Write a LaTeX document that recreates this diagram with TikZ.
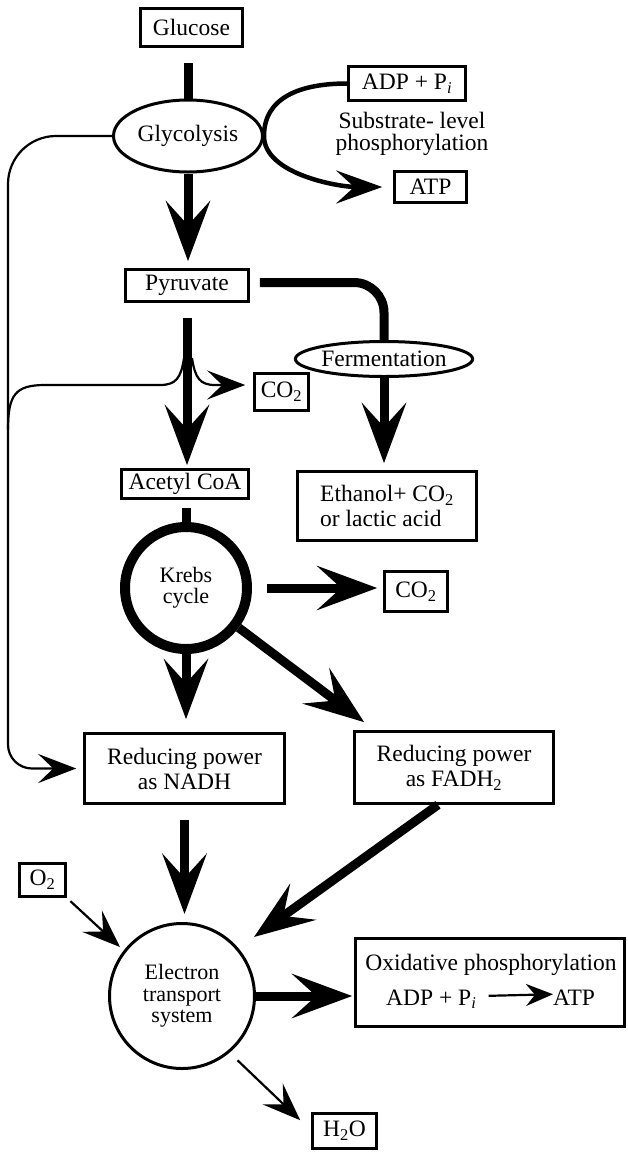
\documentclass[tikz,border=0pt]{standalone}
\usepackage{fontspec}
\setmainfont{Liberation Serif}
\usetikzlibrary{arrows.meta,shapes.geometric,calc}
\begin{document}
\begin{tikzpicture}[x=1pt,y=-1pt,
  txt/.style={font=\fontsize{23.5}{25}\selectfont},
  box/.style={draw, line width=2.6pt, inner sep=0pt, align=center, txt},
  oval/.style={draw, ellipse, line width=3pt, inner sep=0pt, txt},
  thickline/.style={line width=9pt},
  bigarrow/.style={line width=9pt, -{Stealth[length=60pt,width=44pt,inset=24pt]}},
  midarrow/.style={line width=4.5pt, -{Stealth[length=46pt,width=33pt,inset=18pt]}},
  thinline/.style={line width=2.2pt},
  thinarrow/.style={line width=2.2pt, -{Stealth[length=38pt,width=29pt,inset=15pt]}},
  ]
\useasboundingbox (0,0) rectangle (627,1152);

% nodes
\node[box, minimum width=102pt, minimum height=38pt] (glucose) at (191.5,27.5) {Glucose};
\node[oval, minimum width=149pt, minimum height=72pt] (glyco) at (188,136) {Glycolysis};
\node[box, minimum width=117pt, minimum height=34pt] (adp) at (407,83.5) {ADP + P\textsubscript{\textit{i}}};
\node[box, minimum width=72pt, minimum height=31pt] (atp) at (430.5,187) {ATP};
\node[txt, align=center, font=\fontsize{23.5}{22.5}\selectfont] (slp) at (412,134) {Substrate- level\\phosphorylation};
\node[box, minimum width=123pt, minimum height=32pt] (pyr) at (187,285.5) {Pyruvate};
\node[oval, minimum width=173pt, minimum height=35pt] (ferm) at (384,359) {Fermentation};
\node[box, minimum width=54pt, minimum height=37pt] (co2a) at (281.5,392) {CO\textsubscript{2}};
\node[box, minimum width=127pt, minimum height=29pt] (acetyl) at (185,484) {Acetyl CoA};
\node[box, minimum width=179pt, minimum height=69pt, align=left] (eth) at (387,506) {Ethanol+ CO\textsubscript{2}\\or lactic acid};
\node[draw, circle, line width=10pt, minimum size=122pt, inner sep=0pt, align=center, font=\fontsize{22}{21}\selectfont] (krebs) at (186,588) {Krebs\\cycle};
\node[box, minimum width=63pt, minimum height=40pt] (co2b) at (416,591.5) {CO\textsubscript{2}};
\node[box, minimum width=200pt, minimum height=70pt] (nadh) at (184.5,768.5) {Reducing power\\as NADH};
\node[box, minimum width=199pt, minimum height=72pt] (fadh) at (454,767.5) {Reducing power\\as FADH\textsubscript{2}};
\node[box, minimum width=46pt, minimum height=33pt] (o2) at (42.5,880) {O\textsubscript{2}};
\node[draw, circle, line width=3pt, minimum size=145pt, inner sep=0pt, align=center, font=\fontsize{22}{21.5}\selectfont] (ets) at (182,996) {Electron\\transport\\system};
\node[box, minimum width=269pt, minimum height=88pt] (ox) at (490,982.5) {};
\node[txt] (oxt) at (491,965) {Oxidative phosphorylation};
\node[txt, anchor=base west, inner sep=0pt] (adp2) at (386,1005) {ADP + P\textsubscript{\textit{i}}};
\node[txt, anchor=base west, inner sep=0pt] (atp2) at (553,1005) {ATP};
\node[box, minimum width=64pt, minimum height=35pt] (h2o) at (344.5,1131) {H\textsubscript{2}O};
\coordinate (lx) at (8,450);
\coordinate (jl) at (8,430);

% thin side line to NADH
\draw[thinarrow, shorten >=7pt] (glyco.west) [rounded corners=48pt] -| (lx) [rounded corners=24pt] |- (nadh.west);
\draw[thinline] (jl) .. controls (8,395) and (15,385) .. (45,385) -- (160,385) .. controls (176,385) and (181,378) .. (184,358);
\draw[thinarrow, shorten >=8pt] (192,358) .. controls (195,378) and (200,385) .. (215,385) -- ([yshift=7pt]co2a.west);

% glycolysis
\draw[thickline, shorten <=15pt] (glyco.north |- glucose.south) -- (glyco.north);
\draw[bigarrow, shorten >=7pt] (glyco.south) -- (glyco.south |- pyr.north);
\draw[line width=4.5pt] (glyco.east) .. controls +(0,-38) and +(-48,0) .. (adp.west);
\draw[midarrow, shorten >=11pt] (glyco.east) .. controls +(0,38) and +(-55,0) .. (atp.west);

% pyruvate
\draw[bigarrow, shorten <=15pt, shorten >=3pt] (pyr.south) -- (pyr.south |- acetyl.north);
\draw[thickline, rounded corners=30pt, shorten <=10pt] ([yshift=3pt]pyr.east) -| (ferm.north);
\draw[bigarrow, shorten >=7pt] (ferm.south) -- (ferm.south |- eth.north);

% krebs
\draw[thickline, shorten <=8pt] (acetyl.south -| krebs.north) -- (krebs.north);
\draw[bigarrow, shorten <=15pt, shorten >=6pt] (krebs.east) -- (krebs.east -| co2b.west);
\draw[bigarrow, shorten >=13pt] (krebs.south) -- (krebs.south |- nadh.north);
\draw[bigarrow] (krebs.-37) -- ($(fadh.north west)+(11,-8)$);

% electron transport
\draw[bigarrow, shorten <=15pt, shorten >=8pt] (nadh.south) -- (nadh.south |- ets.north);
\draw[bigarrow] ($(fadh.south)+(-16,0)$) -- ($(ets.center)+(72,-59)$);
\draw[thinarrow, shorten <=5pt, shorten >=5pt] (o2.south east) -- (ets.142);
\draw[bigarrow, shorten >=2pt] (ets.east) -- (ets.east -| ox.west);
\draw[thinarrow, shorten <=11pt] (ets.-50) -- ($(h2o.north west)+(-11,8)$);
\draw[line width=2.2pt, shorten <=12pt, -{Stealth[length=27pt,width=22pt,inset=9pt]}] ([yshift=3pt]adp2.east) -- ([yshift=3pt]atp2.west);
\end{tikzpicture}
\end{document}
